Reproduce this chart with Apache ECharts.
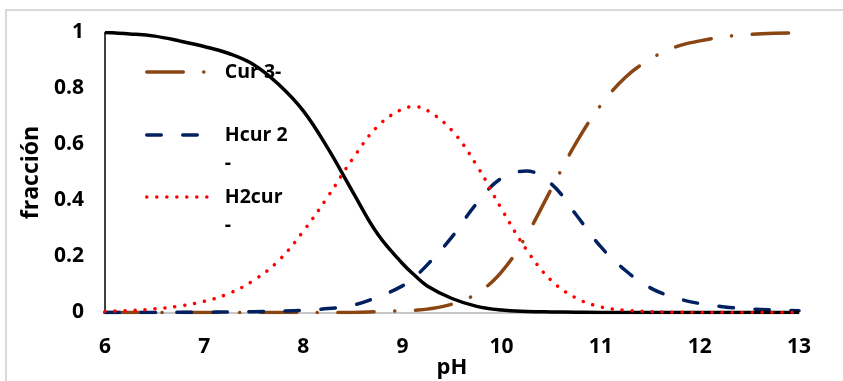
<!DOCTYPE html>
<html>
<head>
<meta charset="utf-8">
<script src="https://cdn.jsdelivr.net/npm/echarts@6/dist/echarts.min.js"></script>
<style>
  html, body { margin: 0; padding: 0; background: #fff; }
  #chart { width: 843px; height: 381px; }
</style>
</head>
<body>
<div id="chart"></div>
<script>
// Species distribution of curcumin versus pH
const pH = [6, 6.25, 6.5, 6.75, 7, 7.25, 7.5, 7.75, 8, 8.25, 8.5, 8.75, 9, 9.125, 9.25, 9.5, 9.75,
            10, 10.25, 10.5, 10.75, 11, 11.25, 11.5, 11.75, 12, 12.25, 12.5, 12.75, 13];

const h3cur = [1.0, 0.995, 0.987, 0.97, 0.95, 0.925, 0.885, 0.815, 0.72, 0.585, 0.43, 0.28, 0.175, 0.132, 0.095, 0.05, 0.022,
               0.009, 0.004, 0.002, 0.001, 0, 0, 0, 0, 0, 0, 0, 0, 0];
const h2cur = [0.004, 0.007, 0.013, 0.023, 0.04, 0.068, 0.115, 0.185, 0.29, 0.415, 0.55, 0.665, 0.727, 0.735, 0.722, 0.65, 0.525,
               0.37, 0.225, 0.115, 0.052, 0.02, 0.008, 0.003, 0.001, 0, 0, 0, 0, 0];
const hcur = [0, 0, 0, 0.001, 0.001, 0.002, 0.003, 0.005, 0.008, 0.014, 0.026, 0.055, 0.095, 0.128, 0.17, 0.27, 0.39,
              0.48, 0.505, 0.46, 0.35, 0.235, 0.15, 0.088, 0.053, 0.032, 0.02, 0.013, 0.009, 0.006];
const cur = [0, 0, 0, 0, 0, 0, 0, 0, 0, 0, 0, 0.003, 0.006, 0.008, 0.012, 0.03, 0.068,
             0.145, 0.275, 0.44, 0.605, 0.74, 0.84, 0.905, 0.948, 0.97, 0.985, 0.993, 0.997, 0.998];

const FONT = '"Open Sans"';
const pairs = ys => pH.map((x, i) => [x, ys[i]]);

const brownDash = [36.5, 20.5, 0.1, 20.5];
const blueDash = [14.5, 21.5];
const redDots = [0.1, 9.9];

function legendBox(name, top, color, dash) {
  return {
    data: [name],
    orient: 'vertical',
    left: 145,
    top: top,
    padding: 0,
    itemWidth: 65,
    itemHeight: 14,
    selectedMode: false,
    lineStyle: { color: color, width: 3.5, type: dash, cap: 'round' },
    itemStyle: { opacity: 0 },
    formatter: n => n === 'Cur 3-' ? 'Cur 3-' : '\u00a0\n' + n.slice(0, -1) + '\n-',
    textStyle: {
      fontFamily: FONT, fontWeight: 'bold', fontSize: 19.5, color: '#000',
      lineHeight: 28, padding: [0, 0, 0, 8]
    }
  };
}

const chart = echarts.init(document.getElementById('chart'));
chart.setOption({
  animation: false,
  backgroundColor: '#fff',
  graphic: [{
    type: 'rect',
    shape: { x: 6, y: 10, width: 900, height: 500 },
    style: { fill: 'none', stroke: '#d9d9d9', lineWidth: 2 },
    silent: true
  }],
  grid: { left: 105, right: 44, top: 32.5, bottom: 68.5, containLabel: false, outerBoundsMode: 'none' },
  xAxis: {
    type: 'value', min: 6, max: 13, interval: 1,
    name: 'pH', nameLocation: 'middle', nameGap: 44, nameMoveOverlap: false,
    nameTextStyle: { fontFamily: FONT, fontWeight: 'bold', fontSize: 22, color: '#000' },
    axisLine: { show: true, lineStyle: { color: '#c8c8c8', width: 2 } },
    axisTick: { show: false },
    splitLine: { show: false },
    axisLabel: { margin: 24, fontFamily: FONT, fontWeight: 'bold', fontSize: 21, color: '#000' }
  },
  yAxis: {
    type: 'value', min: 0, max: 1, interval: 0.2,
    name: 'fracción', nameLocation: 'middle', nameGap: 62, nameMoveOverlap: false,
    nameTextStyle: { fontFamily: FONT, fontWeight: 'bold', fontSize: 23, color: '#000' },
    axisLine: { show: true, lineStyle: { color: '#000', width: 1.5 } },
    axisTick: { show: false },
    splitLine: { show: false },
    axisLabel: { margin: 21, fontFamily: FONT, fontWeight: 'bold', fontSize: 21, color: '#000' }
  },
  legend: [
    legendBox('Cur 3-', 58, '#8B4513', brownDash),
    legendBox('Hcur 2-', 93, '#002060', blueDash),
    legendBox('H2cur-', 155, '#ff0000', redDots)
  ],
  series: [
    {
      name: 'Cur 3-', type: 'line', data: pairs(cur), smooth: 0.4,
      symbol: 'none', showSymbol: false, z: 2,
      lineStyle: { color: '#8B4513', width: 3.5, type: brownDash, cap: 'round' }
    },
    {
      name: 'Hcur 2-', type: 'line', data: pairs(hcur), smooth: 0.4,
      symbol: 'none', showSymbol: false, z: 3,
      lineStyle: { color: '#002060', width: 3.5, type: blueDash, cap: 'round' }
    },
    {
      name: 'H3cur', type: 'line', data: pairs(h3cur), smooth: 0.4,
      symbol: 'none', showSymbol: false, z: 4,
      lineStyle: { color: '#000', width: 3.5, type: 'solid' }
    },
    {
      name: 'H2cur-', type: 'line', data: pairs(h2cur), smooth: 0.4,
      symbol: 'none', showSymbol: false, z: 5,
      lineStyle: { color: '#ff0000', width: 3.5, type: redDots, cap: 'round' }
    }
  ]
});
</script>
</body>
</html>
